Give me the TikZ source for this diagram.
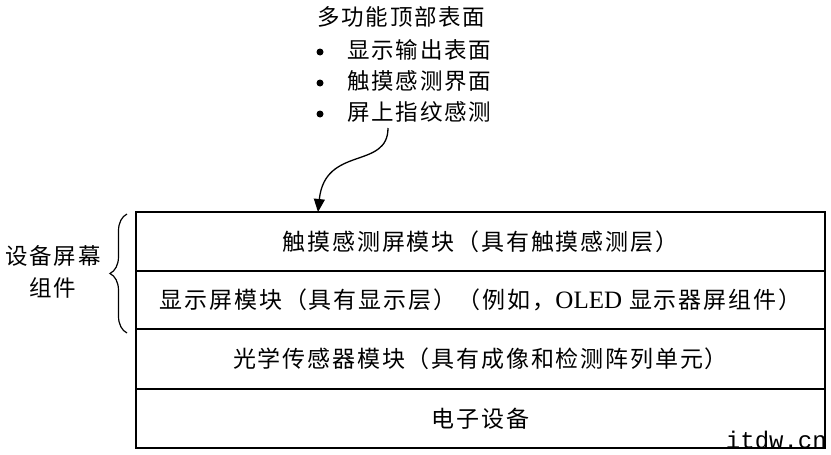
\documentclass[tikz,border=0pt]{standalone}
\usepackage{fontspec}
\setmainfont{Liberation Serif}
\newfontfamily\cjk[LetterSpace=8]{Noto Sans CJK SC}
\newfontfamily\lat{Liberation Serif}
\newfontfamily\wm{Liberation Mono}
\usetikzlibrary{arrows.meta,decorations.pathreplacing}
\begin{document}
\begin{tikzpicture}[x=1pt,y=-1pt,
  txt/.style={font=\cjk\fontsize{22.5}{26}\selectfont, inner sep=0pt},
  row/.style={draw, line width=1.3pt, minimum width=689pt, inner sep=0pt, font=\cjk\fontsize{23}{26}\selectfont},
  dot/.style={circle, fill, inner sep=0pt, minimum size=7pt}]
\useasboundingbox (0,0) rectangle (831,455);
\fill[white] (0,0) rectangle (831,455);
% title and bullets
\node[txt, anchor=west] (title) at (317,17) {多功能顶部表面};
\node[dot] (b1) at (320,52) {};
\node[dot] (b2) at (320,83) {};
\node[dot] (b3) at (320,114) {};
\node[txt, anchor=west] (i1) at (347,50) {显示输出表面};
\node[txt, anchor=west] (i2) at (347,81) {触摸感测界面};
\node[txt, anchor=west] (i3) at (347,112) {屏上指纹感测};
% rows
\node[row, minimum height=59pt] (r1) at (480.5,241.5) {触摸感测屏模块（具有触摸感测层）};
\node[row, minimum height=58pt] (r2) at (480.5,300) {显示屏模块（具有显示层）（例如，{\lat\fontsize{25}{26}\selectfont OLED} 显示器屏组件）};
\node[row, minimum height=60pt] (r3) at (480.5,359) {光学传感器模块（具有成像和检测阵列单元）};
\node[row, minimum height=59pt] (r4) at (480.5,418.5) {电子设备};
% arrow
\coordinate (src) at (388,128);
\coordinate (tip) at (318,212);
\draw[line width=1.3pt, -{Triangle[length=13pt,width=11pt]}] (src) .. controls (388,170) and (325,145) .. (tip);
% brace
\coordinate (bb) at (127,333);
\coordinate (bt) at (127,214);
\draw[line width=1.2pt, decorate, decoration={brace, amplitude=17pt}] (bb) -- (bt);
\node[txt, align=center] (lab) at (53,272) {设备屏幕\\[6pt]组件};
% watermark
\node[anchor=base east, inner sep=0pt, font=\wm\fontsize{24}{24}\selectfont] (wmk) at (827,448) {itdw.cn};
\end{tikzpicture}
\end{document}
